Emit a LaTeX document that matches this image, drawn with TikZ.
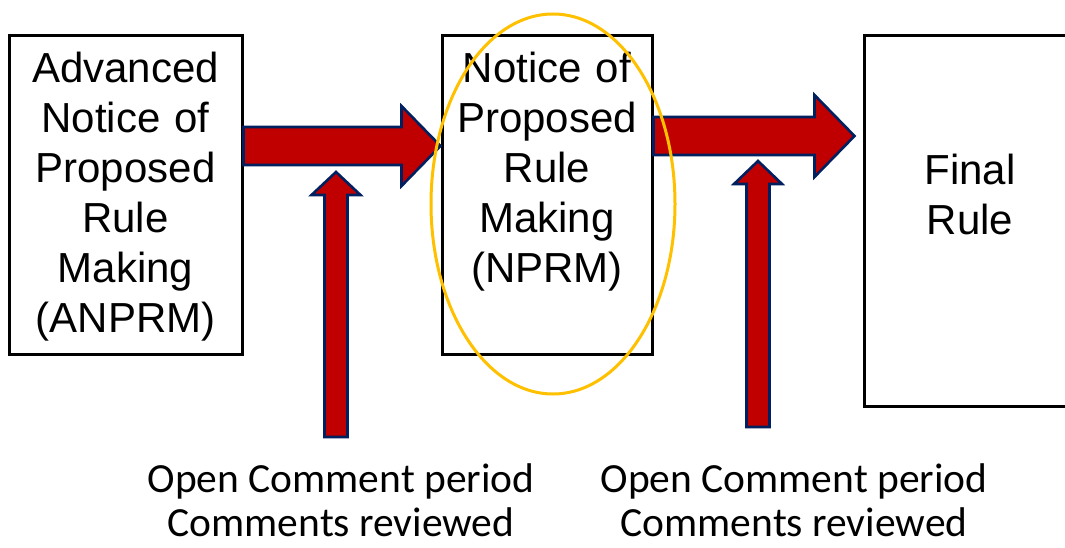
\documentclass[tikz,border=0pt]{standalone}
\usepackage{fontspec}
\setmainfont{Liberation Sans}
\newfontfamily\calibri{Carlito}
\usetikzlibrary{calc,shapes.geometric}
\definecolor{arrowred}{HTML}{C00000}
\definecolor{arrownavy}{HTML}{002060}
\definecolor{ringgold}{HTML}{FFC000}

% block arrow: start, tip, shaft half width, head half width, head length
\newcommand{\blockarrow}[5]{%
  \coordinate (hb) at ($(#2)!#5!(#1)$);
  \draw[fatarrow] ($(#1)!#3!90:(#2)$) -- ($(hb)!#3!90:(#2)$) -- ($(hb)!#4!90:(#2)$) -- (#2)
    -- ($(hb)!#4!-90:(#2)$) -- ($(hb)!#3!-90:(#2)$) -- ($(#1)!#3!-90:(#2)$) -- cycle;}

\begin{document}
\begin{tikzpicture}[x=1pt, y=-1pt,
    stage/.style={draw, line width=3pt, rectangle, inner sep=0pt, align=center,
      text width=200pt, font=\fontsize{42}{50}\selectfont},
    fatarrow/.style={fill=arrowred, draw=arrownavy, line width=2.6pt, line join=miter},
    comment/.style={inner sep=0pt, align=center, anchor=north, font=\calibri\fontsize{41.5}{44}\selectfont}]
    \clip (0,0) rectangle (1065,548);
    % Define the three stages
    \node[stage, minimum width=233pt, minimum height=318pt, text depth=255pt] (anprm) at (125.5,195)
      {Advanced\\Notice of\\Proposed\\Rule\\Making\\(ANPRM)};
    \node[stage, minimum width=210pt, minimum height=318pt, text depth=256pt] (nprm) at (547,195)
      {Notice of\\Proposed\\Rule\\Making\\(NPRM)};
    \node[stage, minimum width=212pt, minimum height=370pt, text depth=103pt] (final) at (970,221)
      {Final\\Rule};

    % Arrow ends
    \coordinate (a1s) at (anprm.east |- 0,146);
    \coordinate (a1t) at (nprm.west |- 0,146);
    \coordinate (a2s) at (nprm.east |- 0,136);
    \coordinate (a2t) at ($(final.west |- 0,136)+(-8,0)$);
    \coordinate (c1s) at (336,437);
    \coordinate (c1t) at (336,172);
    \coordinate (c2s) at (758,427);
    \coordinate (c2t) at (758,161);

    % Draw the block arrows
    \blockarrow{a1s}{a1t}{19pt}{40pt}{39pt}
    \blockarrow{a2s}{a2t}{19pt}{41pt}{40pt}
    \blockarrow{c1s}{c1t}{11.5pt}{24.5pt}{23pt}
    \blockarrow{c2s}{c2t}{11.5pt}{24pt}{23pt}

    % Comment periods
    \node[comment] (cmt1) at (341,463) {Open Comment period\\Comments reviewed};
    \node[comment] (cmt2) at (794,463) {Open Comment period\\Comments reviewed};

    % Highlight ring
    \node[ellipse, draw=ringgold, line width=3pt, minimum width=244pt, minimum height=380pt, inner sep=0pt] (focus) at (553,204) {};
\end{tikzpicture}
\end{document}
